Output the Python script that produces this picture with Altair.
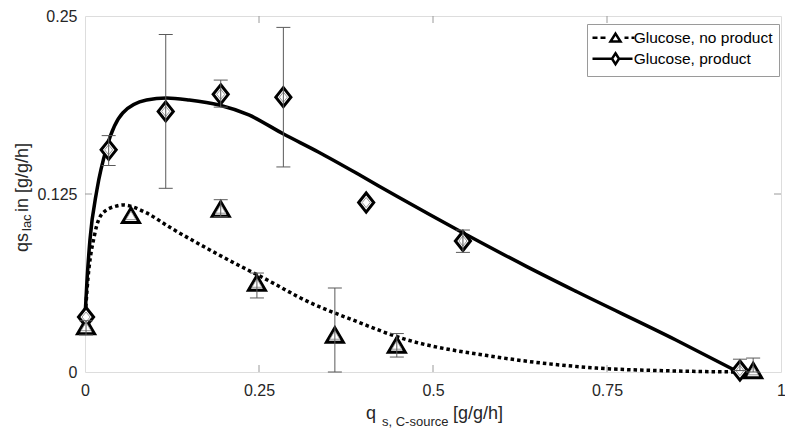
import altair as alt
import pandas as pd

# ---------------- data ----------------
series_names = ["Glucose, no product", "Glucose, product"]

# measured points: Glucose, product (diamonds)
dia_x = [0.0015, 0.034, 0.116, 0.195, 0.285, 0.404, 0.543, 0.941]
dia_y = [0.0386, 0.156, 0.183, 0.195, 0.193, 0.119, 0.092, 0.001]
dia_lo = [0.0386, 0.145, 0.129, 0.186, 0.144, 0.119, 0.084, 0.001]
dia_hi = [0.0386, 0.166, 0.237, 0.205, 0.242, 0.119, 0.0997, 0.009]

# measured points: Glucose, no product (triangles)
tri_x = [0.0015, 0.066, 0.195, 0.247, 0.359, 0.448, 0.960]
tri_y = [0.032, 0.110, 0.1145, 0.0625, 0.026, 0.019, 0.001]
tri_lo = [0.026, 0.110, 0.109, 0.052, 0.0, 0.0105, 0.0]
tri_hi = [0.036, 0.110, 0.121, 0.0695, 0.059, 0.027, 0.0098]

# model curves
prod_curve_x = [0, 0.0029, 0.0071, 0.0171, 0.0314, 0.0542, 0.0884, 0.117, 0.1498,
                0.1926, 0.2354, 0.2853, 0.3352, 0.3923, 0.4494, 0.5435, 0.6348,
                0.706, 0.849, 0.9387]
prod_curve_y = [0.0386, 0.0646, 0.0927, 0.1278, 0.158, 0.1819, 0.191, 0.1924, 0.191,
                0.1875, 0.1805, 0.1671, 0.1545, 0.139, 0.123, 0.0976, 0.074,
                0.0565, 0.0225, 0.0]
noprod_curve_x = [0, 0.0029, 0.0143, 0.0257, 0.0456, 0.0542, 0.0884, 0.1213, 0.1926,
                  0.2739, 0.3067, 0.3923, 0.4494, 0.592, 0.7347, 0.8488, 0.9415]
noprod_curve_y = [0.0365, 0.0576, 0.0976, 0.1117, 0.1166, 0.1173, 0.1117, 0.1018,
                  0.0822, 0.0615, 0.0527, 0.0351, 0.0246, 0.0105, 0.0028, 0.0007, 0.0]

x_ticks = [0, 0.25, 0.5, 0.75, 1]
y_ticks = [0, 0.125, 0.25]
x_inner_ticks = [0.25, 0.5, 0.75]
y_inner_ticks = [0.125]

x_title_parts = ["q", "s, C-source", "[g/g/h]"]
y_title_parts = ["qs", "lac", "in [g/g/h]"]

# ---------------- styling ----------------
W, H = 696, 356
FONT = "Liberation Sans"
FRAME = "#9a9a9a"
ERR = "#5a5a5a"
TXT = "#262626"

TRI_PATH = "M0,-0.85L1,0.85L-1,0.85Z"
DIA_PATH = "M0,-1.12L0.89,0L0,1.12L-0.89,0Z"
LEG_TRI = ("M-5.75,0L-4.5,0M-3.75,0L-2.5,0M0,-1.05L1.25,0.95L-1.25,0.95Z"
           "M2.25,0L3.25,0M4,0L4.75,0")
LEG_DIA = "M-5.75,0L-0.875,0M0,-1.375L0.875,0L0,1.375L-0.875,0ZM0.875,0L4.25,0"

# ---------------- tables ----------------
pts = pd.concat([
    pd.DataFrame({"x": tri_x, "y": tri_y, "lo": tri_lo, "hi": tri_hi,
                  "series": series_names[0]}),
    pd.DataFrame({"x": dia_x, "y": dia_y, "lo": dia_lo, "hi": dia_hi,
                  "series": series_names[1]}),
], ignore_index=True)
errs = pts[pts["hi"] > pts["lo"]].reset_index(drop=True)
legend_rows = pd.DataFrame({"series": series_names, "none": [None, None]})

curves = pd.concat([
    pd.DataFrame({"x": noprod_curve_x, "y": noprod_curve_y, "series": series_names[0]}),
    pd.DataFrame({"x": prod_curve_x, "y": prod_curve_y, "series": series_names[1]}),
], ignore_index=True)

xscale = alt.Scale(domain=[0, 1], nice=False, zero=False)
yscale = alt.Scale(domain=[0, 0.25], nice=False, zero=False)

xaxis = alt.Axis(values=x_ticks, labelExpr="toString(datum.value)", title=None,
                 domain=False, ticks=False, grid=False, labelFont=FONT,
                 labelFontSize=16, labelColor=TXT, labelPadding=10,
                 labelFlush=False, labelOverlap=False)
yaxis = alt.Axis(values=y_ticks, labelExpr="toString(datum.value)", title=None,
                 domain=False, ticks=False, grid=False, labelFont=FONT,
                 labelFontSize=16, labelColor=TXT, labelPadding=8, labelOverlap=False)

X = alt.X("x:Q", scale=xscale, axis=xaxis)
Y = alt.Y("y:Q", scale=yscale, axis=yaxis)

base_c = alt.Chart(curves)
dotted = base_c.transform_filter(alt.datum.series == series_names[0]).mark_line(
    color="black", strokeWidth=3.5, strokeDash=[3.5, 3], interpolate="monotone"
).encode(x=X, y=Y)
solid = base_c.transform_filter(alt.datum.series == series_names[1]).mark_line(
    color="black", strokeWidth=3.5, interpolate="monotone"
).encode(x=X, y=Y)

outer = alt.Chart(pts).mark_point(
    filled=True, fill="white", stroke="black", strokeWidth=3, opacity=1, size=289
).encode(
    x=alt.X("x:Q", scale=xscale),
    y=alt.Y("y:Q", scale=yscale),
    shape=alt.Shape("series:N",
                    scale=alt.Scale(domain=series_names, range=[TRI_PATH, DIA_PATH]),
                    legend=None),
)

# legend-only layer: its rows have no position value, so no point is drawn
legend_layer = alt.Chart(legend_rows).mark_point(
    filled=False, color="black", strokeWidth=2.5, opacity=1, size=64
).encode(
    x=alt.X("none:Q", scale=xscale),
    y=alt.Y("none:Q", scale=yscale),
    shape=alt.Shape("series:N",
                    scale=alt.Scale(domain=series_names, range=[LEG_TRI, LEG_DIA]),
                    legend=alt.Legend(
                        title=None, orient="none", legendX=502, legendY=8,
                        fillColor="white", strokeColor=FRAME, padding=6,
                        labelFont=FONT, labelFontSize=15.5, labelColor="black",
                        symbolSize=64, symbolStrokeWidth=2.5,
                        symbolStrokeColor="black", symbolOpacity=1,
                        symbolOffset=14.75, labelOffset=10.5, rowPadding=1,
                    )),
)

inner_tri = alt.Chart(pts).transform_filter(alt.datum.series == series_names[0]).mark_point(
    shape=TRI_PATH, size=100, stroke="#808080", strokeWidth=0.8, fill="white",
    filled=True, opacity=1
).encode(x=alt.X("x:Q", scale=xscale), y=alt.Y("y:Q", scale=yscale))
inner_dia = alt.Chart(pts).transform_filter(alt.datum.series == series_names[1]).mark_point(
    shape=DIA_PATH, size=81, stroke="#808080", strokeWidth=0.8, fill="white",
    filled=True, opacity=1
).encode(x=alt.X("x:Q", scale=xscale), y=alt.Y("y:Q", scale=yscale))

err_base = alt.Chart(errs)
err_rule = err_base.mark_rule(color=ERR, strokeWidth=1).encode(
    x=alt.X("x:Q", scale=xscale), y=alt.Y("lo:Q", scale=yscale), y2="hi:Q")
err_cap_lo = err_base.mark_tick(orient="horizontal", size=14, thickness=1, color=ERR,
                                opacity=1).encode(
    x=alt.X("x:Q", scale=xscale), y=alt.Y("lo:Q", scale=yscale))
err_cap_hi = err_base.mark_tick(orient="horizontal", size=14, thickness=1, color=ERR,
                                opacity=1).encode(
    x=alt.X("x:Q", scale=xscale), y=alt.Y("hi:Q", scale=yscale))

# inward tick marks (MATLAB box style)
xt = alt.Chart(pd.DataFrame({"t": x_inner_ticks}))
yt = alt.Chart(pd.DataFrame({"t": y_inner_ticks}))
tick_b = xt.mark_rule(color=FRAME, strokeWidth=1).encode(
    x=alt.X("t:Q", scale=xscale), y=alt.value(H), y2=alt.value(H - 7))
tick_t = xt.mark_rule(color=FRAME, strokeWidth=1).encode(
    x=alt.X("t:Q", scale=xscale), y=alt.value(0), y2=alt.value(7))
tick_l = yt.mark_rule(color=FRAME, strokeWidth=1).encode(
    y=alt.Y("t:Q", scale=yscale), x=alt.value(0), x2=alt.value(7))
tick_r = yt.mark_rule(color=FRAME, strokeWidth=1).encode(
    y=alt.Y("t:Q", scale=yscale), x=alt.value(W), x2=alt.value(W - 7))

# axis titles with subscripts
one = alt.Chart(pd.DataFrame({"a": [0]}))
def label(text, x, y, size, angle=0):
    return one.mark_text(text=text, font=FONT, fontSize=size, color=TXT, align="left",
                         baseline="alphabetic", angle=angle).encode(
        x=alt.value(x), y=alt.value(y))

titles = [
    label(x_title_parts[0], 281, 402.5, 18),
    label(x_title_parts[1], 297, 410, 13),
    label(x_title_parts[2], 368, 403, 18),
    label(y_title_parts[0], -57, 236, 18, 270),
    label(y_title_parts[1], -54.5, 215, 13, 270),
    label(y_title_parts[2], -57, 196, 18, 270),
]

chart = alt.layer(
    dotted, solid, outer, legend_layer, inner_tri, inner_dia, err_rule, err_cap_lo,
    err_cap_hi, tick_b, tick_t, tick_l, tick_r, *titles
).resolve_scale(
    shape="independent"
).properties(
    width=W, height=H,
    autosize=alt.AutoSizeParams(type="none"),
    padding={"left": 77, "top": 8, "right": 4, "bottom": 56},
).configure_view(
    stroke=FRAME, strokeWidth=1
).configure(background="white")

chart.save("out.html", embed_options={"renderer": "svg", "actions": False})
